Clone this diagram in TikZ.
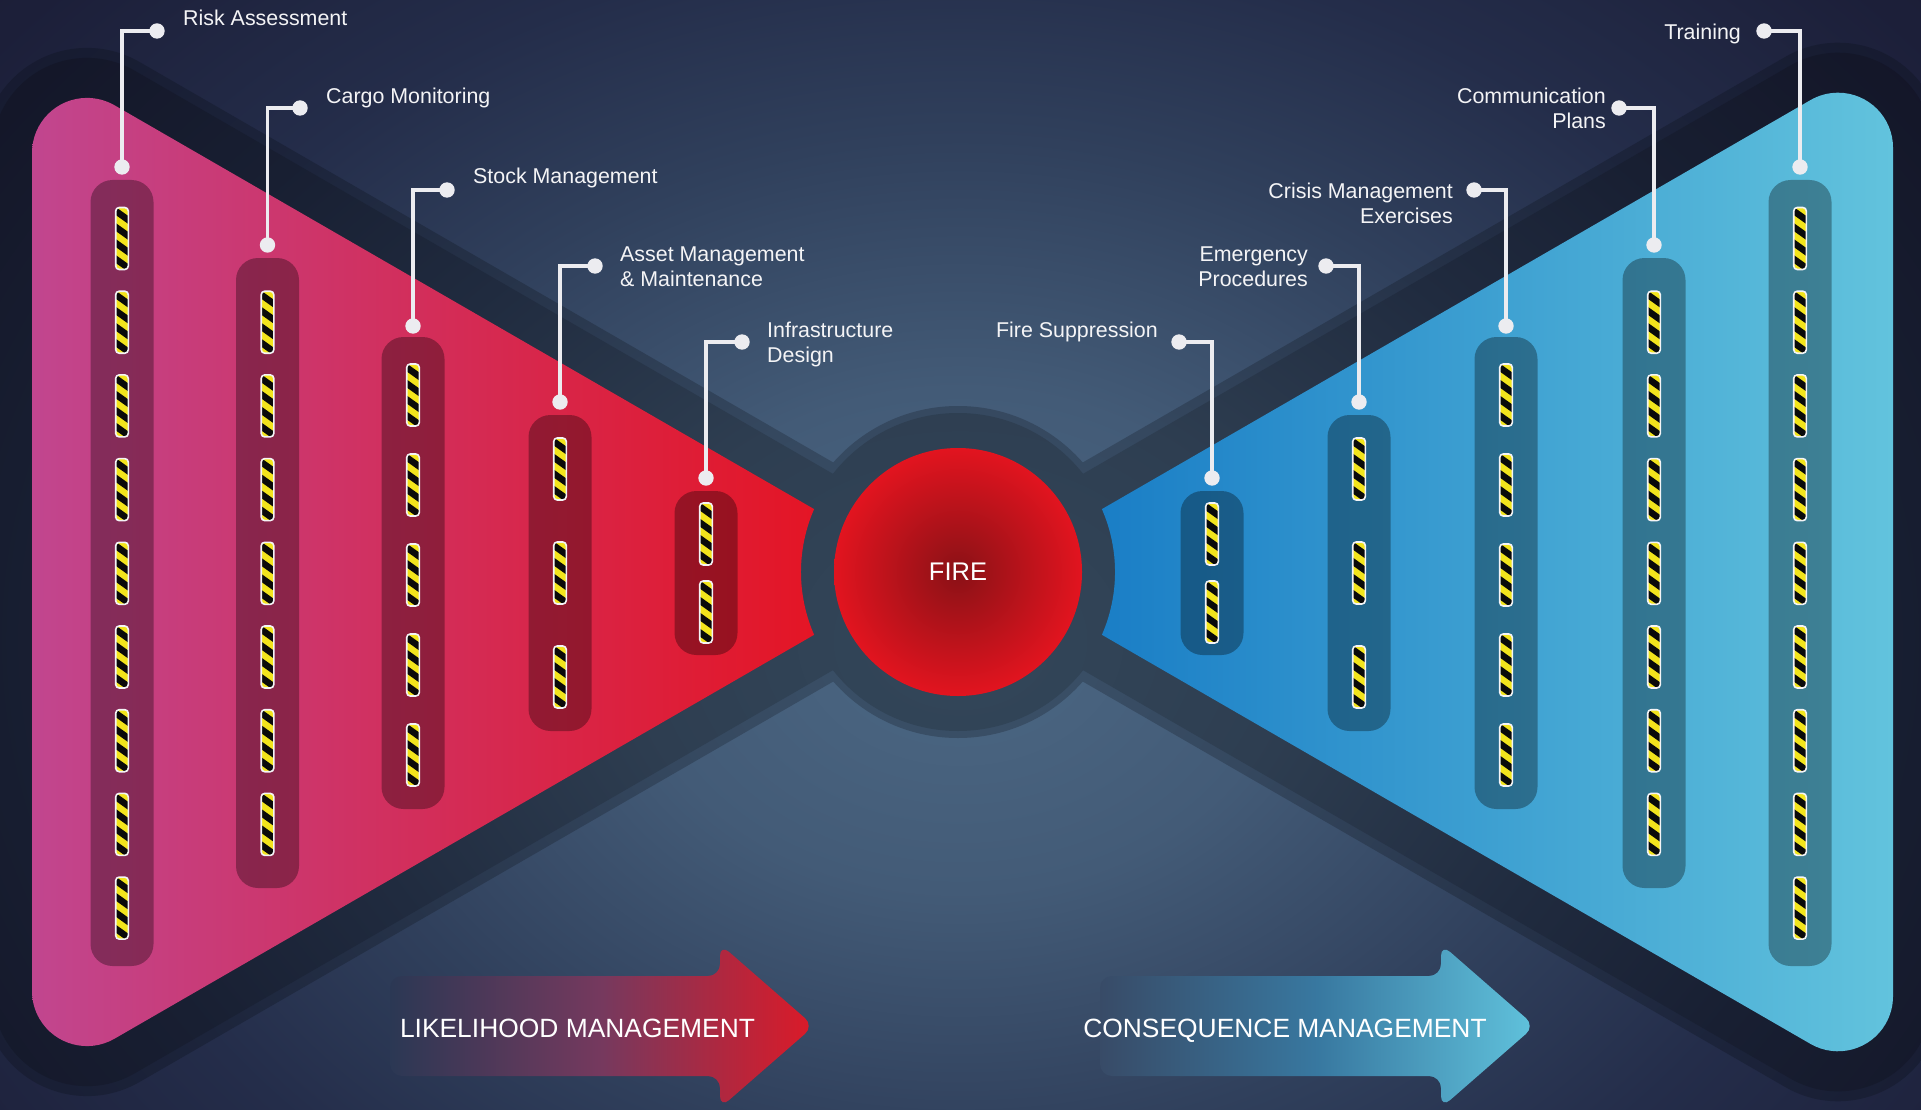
\documentclass[tikz,border=0pt]{standalone}
\usepackage{fontspec}
\setmainfont{Liberation Sans}
\definecolor{bg0}{HTML}{4C6884}\definecolor{bg1}{HTML}{435B77}\definecolor{bg2}{HTML}{30405C}
\definecolor{bg3}{HTML}{242D4A}\definecolor{bg4}{HTML}{1C1F39}\definecolor{bg5}{HTML}{1A1C35}
\definecolor{bgd0}{HTML}{33475A}\definecolor{bgd1}{HTML}{2E3E51}\definecolor{bgd2}{HTML}{202B3F}
\definecolor{bgd3}{HTML}{181F32}\definecolor{bgd4}{HTML}{131527}\definecolor{bgd5}{HTML}{111324}
\definecolor{bgm0}{HTML}{3C5269}\definecolor{bgm1}{HTML}{35485F}\definecolor{bgm2}{HTML}{263349}
\definecolor{bgm3}{HTML}{1C243B}\definecolor{bgm4}{HTML}{161A2F}\definecolor{bgm5}{HTML}{15172C}
\definecolor{lA}{HTML}{C1468F}\definecolor{lB}{HTML}{E41525}
\definecolor{rA}{HTML}{1A7EC6}\definecolor{rB}{HTML}{62C3DD}
\definecolor{fireIn}{HTML}{8A1116}\definecolor{fireOut}{HTML}{E2141F}
\definecolor{hzY}{HTML}{F2E41C}\definecolor{hzK}{HTML}{0A0A0A}\definecolor{hzW}{HTML}{F4F4F6}
\definecolor{lnW}{HTML}{ECECF0}\definecolor{txW}{HTML}{F4F4F6}
\definecolor{aL}{HTML}{2B3854}\definecolor{aM}{HTML}{76395E}\definecolor{aR}{HTML}{DC1A28}
\definecolor{cL}{HTML}{384B67}\definecolor{cM}{HTML}{3878A0}\definecolor{cR}{HTML}{60C2DC}
\pgfdeclareradialshading{bgrad}{\pgfpoint{0bp}{0bp}}{color(0bp)=(bg0); color(5.7bp)=(bg1); color(11.4bp)=(bg2); color(15.9bp)=(bg3); color(21.6bp)=(bg4); color(25bp)=(bg5); color(50bp)=(bg5)}
\pgfdeclareradialshading{bgdark}{\pgfpoint{0bp}{0bp}}{color(0bp)=(bgd0); color(5.7bp)=(bgd1); color(11.4bp)=(bgd2); color(15.9bp)=(bgd3); color(21.6bp)=(bgd4); color(25bp)=(bgd5); color(50bp)=(bgd5)}
\pgfdeclareradialshading{bgmid}{\pgfpoint{0bp}{0bp}}{color(0bp)=(bgm0); color(5.7bp)=(bgm1); color(11.4bp)=(bgm2); color(15.9bp)=(bgm3); color(21.6bp)=(bgm4); color(25bp)=(bgm5); color(50bp)=(bgm5)}
\tikzset{
  colbox/.style={rectangle, rounded corners=22, minimum width=63, inner sep=0, fill=black, fill opacity=0.32, draw=none},
  leader/.style={draw=lnW, line width=3.2},
  lbl/.style={font=\fontsize{21.4}{25}\selectfont, text=txW, inner sep=0},
  bigtxt/.style={font=\fontsize{26.4}{30}\selectfont, text=white, inner sep=0},
  hazard/.pic={
    \begin{scope}
      \clip[rounded corners=3.5] (-6.3,-31) rectangle (6.3,31);
      \fill[hzY] (-7,-32) rectangle (7,32);
      \foreach \s in {-48,-32,...,32}{\fill[hzK] (-7,\s) -- (7,\s+10) -- (7,\s+18) -- (-7,\s+8) -- cycle;}
    \end{scope}
    \draw[hzW, line width=1.6, rounded corners=3.5] (-6.3,-31) rectangle (6.3,31);
  }
}
\begin{document}
\begin{tikzpicture}[x=1pt,y=-1pt]
\useasboundingbox (0,0) rectangle (1921,1110);
\begin{scope}
\clip (0,0) rectangle (1921,1110);
% background
\shade[shading=bgrad] (-470,-460) rectangle (2390,1740);
% soft outer band
\begin{scope}\clip (1023,572) -- (139.5,1082) arc[start angle=60,end angle=180,radius=105] -- (-18,152.9) arc[start angle=180,end angle=300,radius=105] -- cycle;
\shade[shading=bgmid] (-470,-460) rectangle (2390,1740);\end{scope}
\begin{scope}\clip (893,572) -- (1785.5,1087.2) arc[start angle=120,end angle=0,radius=105] -- (1943,147.7) arc[start angle=0,end angle=-120,radius=105] -- cycle;
\shade[shading=bgmid] (-470,-460) rectangle (2390,1740);\end{scope}
\begin{scope}\clip (958,572) circle[radius=166];
\shade[shading=bgmid] (-470,-460) rectangle (2390,1740);\end{scope}
% inner band
\begin{scope}\clip (1003,572) -- (134.5,1073.4) arc[start angle=60,end angle=180,radius=95] -- (-8,152.9) arc[start angle=180,end angle=300,radius=95] -- cycle;
\shade[shading=bgdark] (-470,-460) rectangle (2390,1740);\end{scope}
\begin{scope}\clip (913,572) -- (1790.5,1078.6) arc[start angle=120,end angle=0,radius=95] -- (1933,147.7) arc[start angle=0,end angle=-120,radius=95] -- cycle;
\shade[shading=bgdark] (-470,-460) rectangle (2390,1740);\end{scope}
\begin{scope}\clip (958,572) circle[radius=159];
\shade[shading=bgdark] (-470,-460) rectangle (2390,1740);\end{scope}
% triangles
\shade[left color=lA, right color=lB] (814.1,509.1) arc[start angle=203.6, end angle=156.4, radius=157] -- (114.5,1038.7) arc[start angle=60, end angle=180, radius=55] -- (32,152.9) arc[start angle=180, end angle=300, radius=55] -- cycle;
\shade[left color=rA, right color=rB] (1101.9,509.1) arc[start angle=-23.6, end angle=23.6, radius=157] -- (1810.5,1043.9) arc[start angle=120, end angle=0, radius=55] -- (1893,147.7) arc[start angle=0, end angle=-120, radius=55] -- cycle;
% arrows
\shade[left color=aL, right color=aR, middle color=aM, rounded corners=12] (390,976) -- (720,976) -- (720,944) -- (814,1026) -- (720,1108) -- (720,1076) -- (390,1076) -- cycle;
\shade[left color=cL, right color=cR, middle color=cM, rounded corners=12] (1100,976) -- (1441,976) -- (1441,944) -- (1535,1026) -- (1441,1108) -- (1441,1076) -- (1100,1076) -- cycle;
\end{scope}
% column boxes
\node[colbox, minimum height=786] (b1) at (122,573) {};
\node[colbox, minimum height=630] (b2) at (267.5,573) {};
\node[colbox, minimum height=472] (b3) at (413,573) {};
\node[colbox, minimum height=316] (b4) at (560,573) {};
\node[colbox, minimum height=164] (b5) at (706,573) {};
\node[colbox, minimum height=164] (r1) at (1212,573) {};
\node[colbox, minimum height=316] (r2) at (1359,573) {};
\node[colbox, minimum height=472] (r3) at (1506,573) {};
\node[colbox, minimum height=630] (r4) at (1654,573) {};
\node[colbox, minimum height=786] (r5) at (1800,573) {};
% hazard bars
\foreach \k in {0,...,8}{\pic at (122,{238.5+83.7*\k}) {hazard}; \pic at (1800,{238.5+83.7*\k}) {hazard};}
\foreach \k in {0,...,6}{\pic at (267.5,{322.2+83.7*\k}) {hazard}; \pic at (1654,{322.2+83.7*\k}) {hazard};}
\foreach \k in {0,...,4}{\pic at (413,{395+90*\k}) {hazard}; \pic at (1506,{395+90*\k}) {hazard};}
\foreach \k in {0,...,2}{\pic at (560,{469+104*\k}) {hazard}; \pic at (1359,{469+104*\k}) {hazard};}
\foreach \y in {534,612}{\pic at (706,\y) {hazard}; \pic at (1212,\y) {hazard};}
% leader coordinates
\coordinate (L1a) at (122,167); \coordinate (L1b) at (157,31);
\coordinate (L2a) at (267.5,245); \coordinate (L2b) at (300,108);
\coordinate (L3a) at (413,326); \coordinate (L3b) at (447,190);
\coordinate (L4a) at (560,402); \coordinate (L4b) at (595,266);
\coordinate (L5a) at (706,478); \coordinate (L5b) at (742,342);
\coordinate (R1a) at (1212,478); \coordinate (R1b) at (1179,342);
\coordinate (R2a) at (1359,402); \coordinate (R2b) at (1326,266);
\coordinate (R3a) at (1506,326); \coordinate (R3b) at (1474,190);
\coordinate (R4a) at (1654,245); \coordinate (R4b) at (1619,108);
\coordinate (R5a) at (1800,167); \coordinate (R5b) at (1764,31);
\foreach \n in {L1,L2,L3,L4,L5,R1,R2,R3,R4,R5}{
  \draw[leader] (\n a) |- (\n b);
  \fill[lnW] (\n a) circle[radius=7.7];
  \fill[lnW] (\n b) circle[radius=7.7];
}
% labels (base anchor of multi-line nodes = last line)
\node[lbl, anchor=base west] (t1) at (183,26) {Risk Assessment};
\node[lbl, anchor=base west] (t2) at (326,104) {Cargo Monitoring};
\node[lbl, anchor=base west] (t3) at (473,184) {Stock Management};
\node[lbl, anchor=base west, align=left] (t4) at (620,286) {Asset Management\\\& Maintenance};
\node[lbl, anchor=base west, align=left] (t5) at (767,362) {Infrastructure\\Design};
\node[lbl, anchor=base east] (u1) at (1158,337) {Fire Suppression};
\node[lbl, anchor=base east, align=right] (u2) at (1308,286) {Emergency\\Procedures};
\node[lbl, anchor=base east, align=right] (u3) at (1453,223) {Crisis Management\\Exercises};
\node[lbl, anchor=base east, align=right] (u4) at (1606,129) {Communication\\Plans};
\node[lbl, anchor=base east] (u5) at (1741,40) {Training};
% fire
\node[circle, minimum size=248, inner sep=0, inner color=fireIn, outer color=fireOut, text=white, font=\fontsize{25.5}{30}\selectfont] (fire) at (958,572) {FIRE};
% arrow texts
\node[bigtxt, anchor=base] (lm) at (577.5,1037) {LIKELIHOOD MANAGEMENT};
\node[bigtxt, anchor=base] (cm) at (1285,1037) {CONSEQUENCE MANAGEMENT};
\end{tikzpicture}
\end{document}
